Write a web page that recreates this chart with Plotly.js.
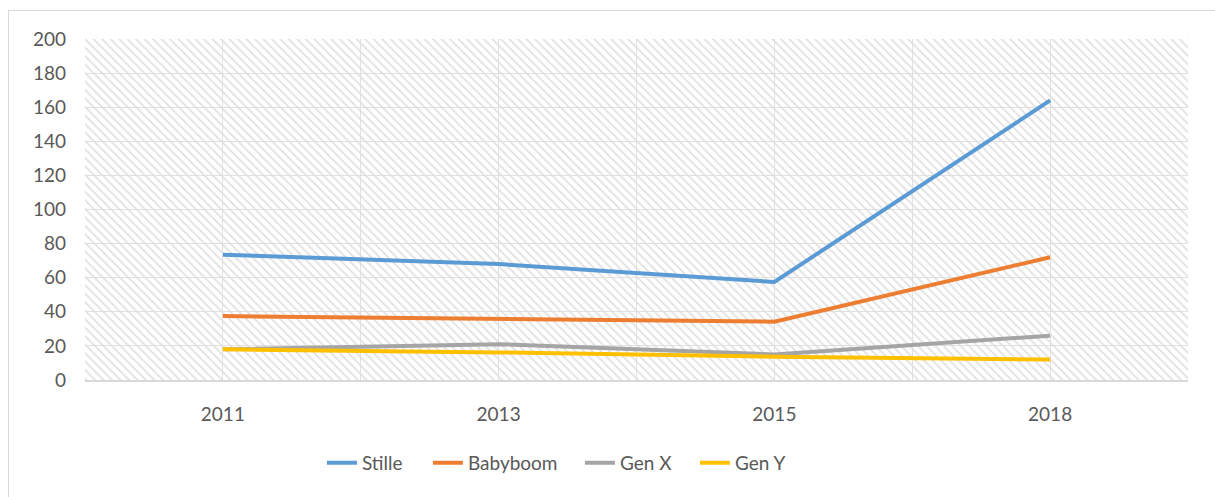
<!DOCTYPE html>
<html>
<head>
<meta charset="utf-8">
<script src="https://cdn.plot.ly/plotly-3.0.1.min.js"></script>
<style>
  html, body { margin: 0; padding: 0; background: #fff; overflow: hidden; }
  #wrap { position: relative; width: 1215px; height: 497px; overflow: hidden; }
  #plot { width: 1215px; height: 497px; }
  #frame {
    position: absolute; left: 8px; top: 10px; width: 1400px; height: 700px;
    border: 1px solid #d9d9d9; pointer-events: none;
  }
</style>
</head>
<body>
<div id="wrap">
  <div id="plot"></div>
  <div id="frame"></div>
</div>
<script>
// Chart data
const years = ['2011', '2013', '2015', '2018'];
const stille = [73.5, 68, 57.5, 164];
const babyboom = [37.5, 36, 34.2, 72];
const genX = [18, 21, 15, 26];
const genY = [18, 16.2, 13.7, 12];

const seriesNames = ['Stille', 'Babyboom', 'Gen X', 'Gen Y'];
const seriesValues = [stille, babyboom, genX, genY];
const seriesColors = ['#5b9bd5', '#ed7d31', '#a5a5a5', '#ffc000'];

const yMax = 200;
const xIdx = years.map((_, i) => i);

// one legend per series so the entries can be spaced like the original
const legendIds = ['legend', 'legend2', 'legend3', 'legend4'];
const legendX = [0.2148, 0.3109, 0.4487, 0.5530];

// hatched plot background, drawn as a filled trace so gridlines show through
const hatch = {
    x: [-0.5, years.length - 0.5],
    y: [yMax, yMax],
    type: 'scatter',
    mode: 'lines',
    fill: 'tozeroy',
    fillcolor: 'rgba(0,0,0,0)',
    fillpattern: {
        shape: '\\',
        fgcolor: '#e0e0e0',
        bgcolor: 'rgba(0,0,0,0)',
        size: 6,
        solidity: 0.3
    },
    line: { width: 0 },
    showlegend: false,
    hoverinfo: 'skip'
};

const traces = [hatch].concat(seriesNames.map((name, k) => ({
    x: xIdx,
    y: seriesValues[k],
    name: name,
    type: 'scatter',
    mode: 'lines',
    legend: legendIds[k],
    line: { color: seriesColors[k], width: 4 }
})));

const layout = {
    width: 1215,
    height: 497,
    margin: { l: 85, r: 27, t: 39, b: 117 },
    paper_bgcolor: '#ffffff',
    plot_bgcolor: '#ffffff',
    font: { family: 'Lato, "Open Sans", sans-serif', size: 19, color: '#595959' },
    xaxis: {
        range: [-0.5, years.length - 0.5],
        tickmode: 'array',
        tickvals: xIdx,
        ticktext: years,
        showgrid: true,
        gridcolor: '#e0e0e0',
        gridwidth: 1,
        minor: {
            tickmode: 'linear',
            tick0: -0.5,
            dtick: 1,
            showgrid: true,
            gridcolor: '#e0e0e0',
            gridwidth: 1,
            ticklen: 0
        },
        zeroline: false,
        showline: true,
        linecolor: '#d9d9d9',
        linewidth: 2,
        ticks: '',
        ticklabelstandoff: 16,
        fixedrange: true
    },
    yaxis: {
        range: [0, yMax],
        dtick: 20,
        showgrid: true,
        gridcolor: '#e0e0e0',
        gridwidth: 1,
        zeroline: false,
        showline: false,
        ticks: '',
        ticklabelstandoff: 18,
        fixedrange: true
    },
    showlegend: true
};

legendIds.forEach((id, k) => {
    layout[id] = {
        orientation: 'h',
        x: legendX[k],
        xanchor: 'left',
        y: -0.243,
        yanchor: 'middle',
        font: { size: 19, color: '#595959' },
        bgcolor: 'rgba(0,0,0,0)'
    };
});

Plotly.newPlot('plot', traces, layout, { displayModeBar: false, staticPlot: true });
</script>
</body>
</html>
